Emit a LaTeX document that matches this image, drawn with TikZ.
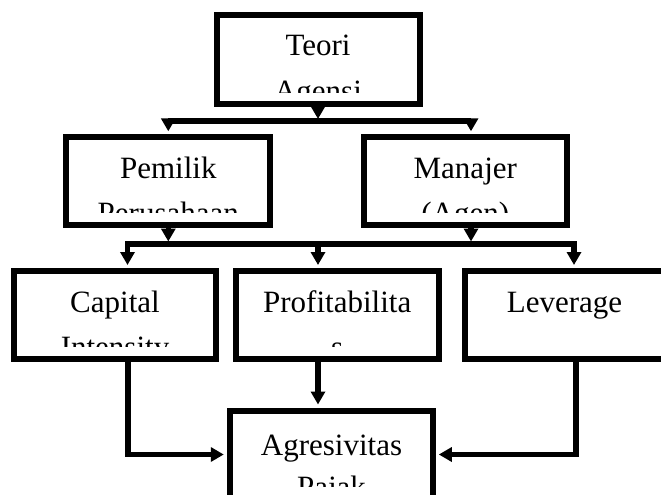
\documentclass[tikz,border=0pt]{standalone}
\usepackage{fontspec}
\setmainfont{Liberation Serif}
\usetikzlibrary{arrows.meta}
\tikzset{
  box/.style={draw=black, fill=white, line width=6pt, minimum width=203pt, minimum height=88pt, inner sep=0pt},
  txt/.style={font=\fontsize{31}{44}\selectfont, inner sep=0pt, anchor=base},
  conn/.style={draw=black, line width=5.5pt},
  arr/.style={-{Triangle[length=13pt,width=14pt]}},
  intobox/.style={arr, shorten >=3pt}
}
\begin{document}
\begin{tikzpicture}[x=1pt,y=-1pt]
\useasboundingbox (0,0) rectangle (661,495);
\fill[white] (0,0) rectangle (661,495);
\clip (0,0) rectangle (661,495);

% boxes
\node[box, minimum height=89pt] (teori) at (318,59.5) {};
\node[box, minimum width=204pt] (pemilik) at (168.3,181.3) {};
\node[box] (manajer) at (465.3,181.3) {};
\node[box, minimum width=202pt] (capital) at (115,315) {};
\node[box] (profit) at (337.2,315) {};
\node[box, minimum width=202pt] (leverage) at (565.5,315) {};
\node[box] (agres) at (331.3,454.5) {};

% texts (first lines)
\node[txt] (t1) at (318,55.7) {Teori};
\node[txt] (p1) at (168.3,178.3) {Pemilik};
\node[txt] (m1) at (465.3,178.3) {Manajer};
\node[txt] (c1) at (115,312) {Capital};
\node[txt] (f1) at (337.2,312) {Profitabilita};
\node[txt] (l1) at (564.5,312) {Leverage};
\node[txt] (a1) at (331.5,455) {Agresivitas};

% second lines, cut off by the text box
\begin{scope}
\clip (223,18) rectangle (413,92);
\node[txt] (t2) at (318,101) {Agensi};
\end{scope}
\begin{scope}
\clip (73,141) rectangle (264,212.5);
\node[txt] (p2) at (168.3,223) {Perusahaan};
\end{scope}
\begin{scope}
\clip (370,141) rectangle (561,212.5);
\node[txt] (m2) at (465.3,223) {(Agen)};
\end{scope}
\begin{scope}
\clip (20,274) rectangle (210,346.5);
\node[txt] (c2) at (115,357) {Intensity};
\end{scope}
\begin{scope}
\clip (242,274) rectangle (432,346.5);
\node[txt] (f2) at (337.2,357) {s};
\end{scope}
\begin{scope}
\clip (236,414) rectangle (427,486.5);
\node[txt] (a2) at (331.5,497) {Pajak};
\end{scope}

% junction coordinates
\coordinate (j0) at (318,119);
\coordinate (j1l) at (168.3,121);
\coordinate (j1r) at (471,121);
\coordinate (j2a) at (168.3,241.5);
\coordinate (j2b) at (471,241.5);
\coordinate (j2l) at (127.5,244);
\coordinate (j2m) at (318,244);
\coordinate (j2r) at (574,244);
\coordinate (k1) at (128,455);
\coordinate (k2) at (318,455);
\coordinate (k3) at (576,455);

% connectors
\draw[conn,arr] (teori.south) -- (j0);
\draw[conn,intobox] (j1r) -- (j1l) -- (pemilik.north -| j1l);
\draw[conn,intobox] (j1l) -- (j1r) -- (manajer.north -| j1r);
\draw[conn,arr] (pemilik.south) -- (j2a);
\draw[conn,arr] (manajer.south -| j2b) -- (j2b);
\draw[conn,intobox] (j2r) -- (j2l) -- (capital.north -| j2l);
\draw[conn,intobox] (j2l) -- (j2r) -- (leverage.north -| j2r);
\draw[conn,intobox] (j2m) -- (profit.north -| j2m);
\draw[conn,intobox] (capital.south -| k1) -- (agres.west -| k1) -- (agres.west);
\draw[conn,intobox] (profit.south -| k2) -- (agres.north -| k2);
\draw[conn,intobox] (leverage.south -| k3) -- (agres.east -| k3) -- (agres.east);
\end{tikzpicture}
\end{document}
